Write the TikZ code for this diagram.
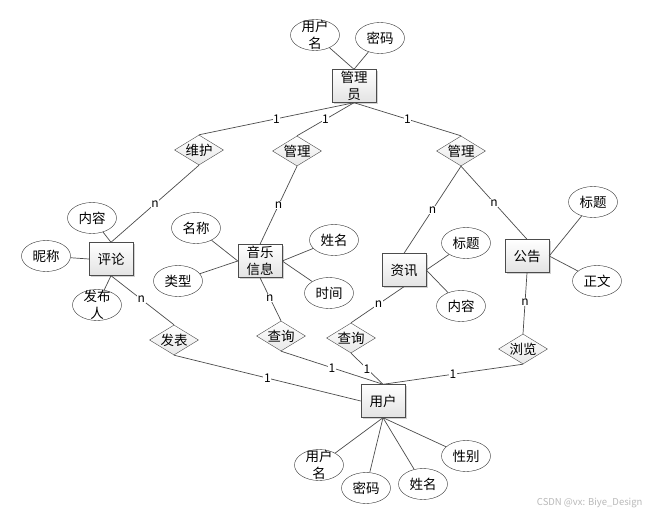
\documentclass[tikz,border=0pt]{standalone}
\usepackage{fontspec}
\setmainfont{Noto Sans CJK SC}
\usetikzlibrary{shapes.geometric,shadows}

\begin{document}
\begin{tikzpicture}[x=1pt, y=-1pt,
    entity/.style={draw=gray!60!black, top color=white, bottom color=gray!22, minimum width=44pt, minimum height=33pt, inner sep=1pt, align=center, font=\fontsize{13.5}{16.5}\selectfont, drop shadow={shadow xshift=1.5pt, shadow yshift=-1.5pt, fill=gray!70, opacity=0.5}},
    relation/.style={diamond, shape aspect=1.6, draw=gray!60!black, top color=white, bottom color=gray!18, minimum width=49pt, minimum height=30pt, inner sep=0pt, font=\fontsize{13.5}{16}\selectfont},
    attr/.style={ellipse, draw=black!80, fill=white, minimum width=49pt, minimum height=31pt, inner sep=0pt, font=\fontsize{13.5}{16}\selectfont},
    twoline/.style={align=center, font=\fontsize{13.5}{16.5}\selectfont},
    conn/.style={gray!60!black, line width=0.7pt},
    lbl/.style={fill=white, inner sep=0.6pt, font=\fontsize{12}{14}\selectfont, text=black}
]
    % Page
    \fill[white] (0,0) rectangle (648,514);
    \useasboundingbox (0,0) rectangle (648,514);

    % Entities
    \node[entity] (gly) at (354,86) {管理\\员};
    \node[entity] (pl) at (111,259) {评论};
    \node[entity] (yy) at (260,261) {音乐\\信息};
    \node[entity] (zx) at (404,270) {资讯};
    \node[entity] (gg) at (527,256) {公告};
    \node[entity] (yh) at (383,401) {用户};

    % Relations
    \node[relation] (wh) at (199,150) {维护};
    \node[relation] (gl1) at (297,151) {管理};
    \node[relation] (gl2) at (461,151) {管理};
    \node[relation] (fb) at (174,340) {发表};
    \node[relation] (cx1) at (281,336) {查询};
    \node[relation] (cx2) at (351,338) {查询};
    \node[relation] (ll) at (523,349) {浏览};

    % Attributes
    \node[attr, label={[twoline]center:{用户\\名}}] (glyname) at (315,35) {};
    \node[attr] (glypwd) at (380,38) {密码};
    \node[attr] (plnr) at (92,218) {内容};
    \node[attr] (plnc) at (46,256) {昵称};
    \node[attr, label={[twoline]center:{发布\\人}}] (plfbr) at (97,305) {};
    \node[attr] (yymc) at (196,228) {名称};
    \node[attr] (yylx) at (178,281) {类型};
    \node[attr] (yyxm) at (334,240) {姓名};
    \node[attr] (yysj) at (329,293) {时间};
    \node[attr] (zxbt) at (466,243) {标题};
    \node[attr] (zxnr) at (461,306) {内容};
    \node[attr] (ggbt) at (593,202) {标题};
    \node[attr] (ggzw) at (597,281) {正文};
    \node[attr, label={[twoline]center:{用户\\名}}] (yhname) at (319,465) {};
    \node[attr] (yhpwd) at (366,488) {密码};
    \node[attr] (yhxm) at (423,484) {姓名};
    \node[attr] (yhxb) at (466,456) {性别};

    % Attribute links
    \draw[conn] (gly.north) -- (glyname);
    \draw[conn] (gly.north) -- (glypwd);
    \draw[conn] (pl.north) -- (plnr);
    \draw[conn] (pl.west) -- (plnc);
    \draw[conn] (pl.south) -- (plfbr);
    \draw[conn] (yy.west) -- (yymc);
    \draw[conn] (yy.west) -- (yylx);
    \draw[conn] (yy.east) -- (yyxm);
    \draw[conn] (yy.east) -- (yysj);
    \draw[conn] (zx.east) -- (zxbt);
    \draw[conn] (zx.east) -- (zxnr);
    \draw[conn] (gg.east) -- (ggbt);
    \draw[conn] (gg.east) -- (ggzw);
    \draw[conn] (yh.south) -- (yhname);
    \draw[conn] (yh.south) -- (yhpwd);
    \draw[conn] (yh.south) -- (yhxm);
    \draw[conn] (yh.south) -- (yhxb);

    % Admin side
    \draw[conn] (gly.south) -- node[lbl] {1} (wh.north);
    \draw[conn] (gly.south) -- node[lbl] {1} (gl1.north);
    \draw[conn] (gly.south) -- node[lbl] {1} (gl2.north);
    \draw[conn] (wh.south) -- node[lbl] {n} (pl.north);
    \draw[conn] (gl1.south) -- node[lbl] {n} (yy.north);
    \draw[conn] (gl2.south) -- node[lbl] {n} (zx.north);
    \draw[conn] (gl2.south) -- node[lbl] {n} (gg.north);

    % User side
    \draw[conn] (pl.south) -- node[lbl, pos=0.48] {n} (fb.north);
    \draw[conn] (yy.south) -- node[lbl, pos=0.47] {n} (cx1.north);
    \draw[conn] (zx.south) -- node[lbl, pos=0.48] {n} (cx2.north);
    \draw[conn] (gg.south) -- node[lbl, pos=0.48] {n} (ll.north);
    \draw[conn] (fb.south) -- node[lbl] {1} (yh.west);
    \draw[conn] (cx1.south) -- node[lbl] {1} (yh.north);
    \draw[conn] (cx2.south) -- node[lbl] {1} (yh.north);
    \draw[conn] (ll.south) -- node[lbl] {1} (yh.north);

    % Watermark
    \node[anchor=east, text=gray!55, font=\fontsize{9.5}{11}\selectfont] (wm) at (646,503) {CSDN @vx: Biye\_Design};
\end{tikzpicture}
\end{document}
